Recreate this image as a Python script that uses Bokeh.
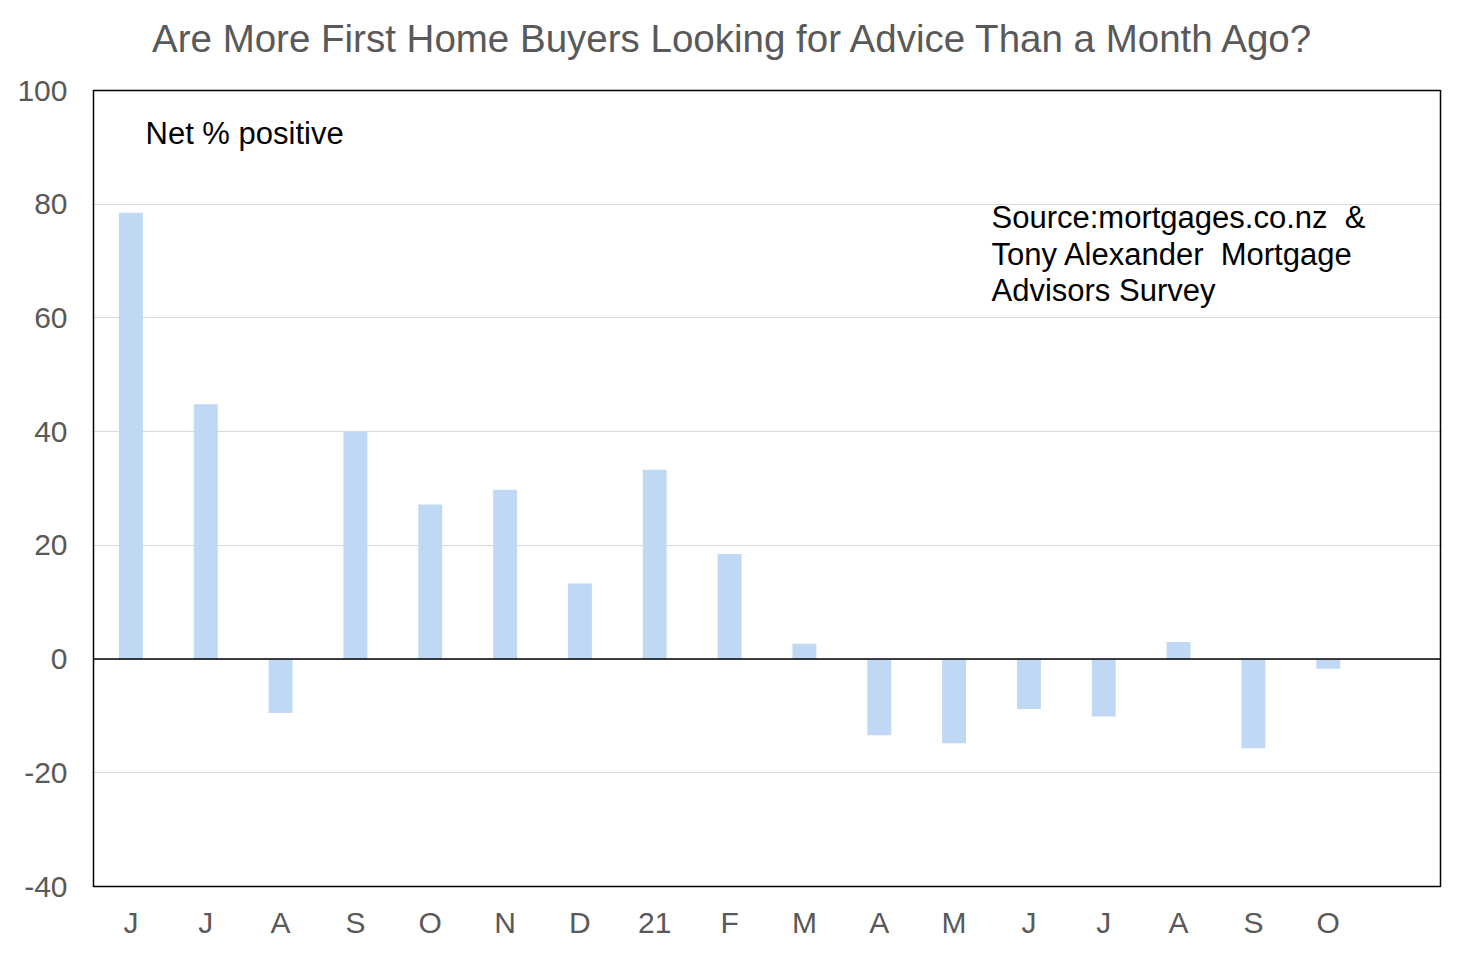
from bokeh.plotting import figure
from bokeh.models import FixedTicker, Label, Range1d
from bokeh.embed import file_html
from bokeh.resources import INLINE

months = ["J", "J", "A", "S", "O", "N", "D", "21", "F", "M", "A", "M", "J", "J", "A", "S", "O"]
net_positive = [78.5, 44.8, -9.5, 40.0, 27.2, 29.8, 13.3, 33.3, 18.5, 2.7, -13.4, -14.8, -8.8, -10.1, 3.0, -15.7, -1.7]
y_ticks = [-40, -20, 0, 20, 40, 60, 80, 100]
y_tick_labels = ["-40", "-20", "0", "20", "40", "60", "80", "100"]
title_text = "Are More First Home Buyers Looking for Advice Than a Month Ago?"
note_text = "Net % positive"
source_lines = ["Source:mortgages.co.nz  &", "Tony Alexander  Mortgage", "Advisors Survey"]

FONT = "Liberation Sans"
GREY = "#595959"

idx = list(range(len(months)))
box_left, box_right = -0.5, len(months) + 0.5
box_bottom, box_top = y_ticks[0], y_ticks[-1]

# pixel scales of the plotting box (1347 px for 18 slots, 796 px for 140 units)
px_x = 1347 / 18
px_y = 796 / 140
pad = 2  # px of slack so the box outline is not clipped

x_range = Range1d(box_left - pad / px_x, box_right + pad / px_x)
y_range = Range1d(box_bottom - pad / px_y, box_bottom - pad / px_y + 880 / px_y)

p = figure(width=1454, height=946, output_backend="svg", toolbar_location=None,
           x_range=x_range, y_range=y_range,
           min_border_left=91, min_border_right=12, min_border_top=8, min_border_bottom=58)

p.vbar(x=idx, top=net_positive, bottom=0, width=0.32, fill_color="#BFD9F5", line_color=None)

# zero line across the plotting box
p.segment(x0=[box_left], x1=[box_right], y0=[0], y1=[0], line_color="black", line_width=1.5)

# plot box outline
p.quad(left=[box_left], right=[box_right], bottom=[box_bottom], top=[box_top], fill_color=None,
       line_color="black", line_width=1.5)
p.outline_line_color = None

p.xgrid.grid_line_color = None
p.ygrid.grid_line_color = "#D9D9D9"
p.ygrid.grid_line_width = 1
p.yaxis.ticker = FixedTicker(ticks=y_ticks)
p.yaxis.major_label_overrides = {t: s for t, s in zip(y_ticks, y_tick_labels)}
p.xaxis.ticker = FixedTicker(ticks=idx)
p.xaxis.major_label_overrides = {i: m for i, m in zip(idx, months)}

for ax in (p.xaxis, p.yaxis):
    ax.axis_line_color = None
    ax.major_tick_line_color = None
    ax.minor_tick_line_color = None
    ax.major_tick_out = 0
    ax.major_tick_in = 0
    ax.major_label_text_font = FONT
    ax.major_label_text_font_size = "30px"
    ax.major_label_text_color = GREY
p.yaxis.major_label_standoff = 24
p.xaxis.major_label_standoff = 17

# chart title, above the plotting box
p.add_layout(Label(x=8.06, y=109.15, text=title_text, text_font=FONT, text_font_size="38.5px",
                   text_color=GREY, text_align="center", text_baseline="middle"))

p.add_layout(Label(x=0.195, y=92.5, text=note_text, text_font=FONT, text_font_size="31px",
                   text_color="black", text_baseline="middle"))
for line, yv in zip(source_lines, [77.7, 71.2, 64.9]):
    p.add_layout(Label(x=11.5, y=yv, text=line.replace("  ", " \u00a0"), text_font=FONT,
                       text_font_size="31px", text_color="black", text_baseline="middle"))

open("out.html", "w").write(file_html(p, INLINE))
